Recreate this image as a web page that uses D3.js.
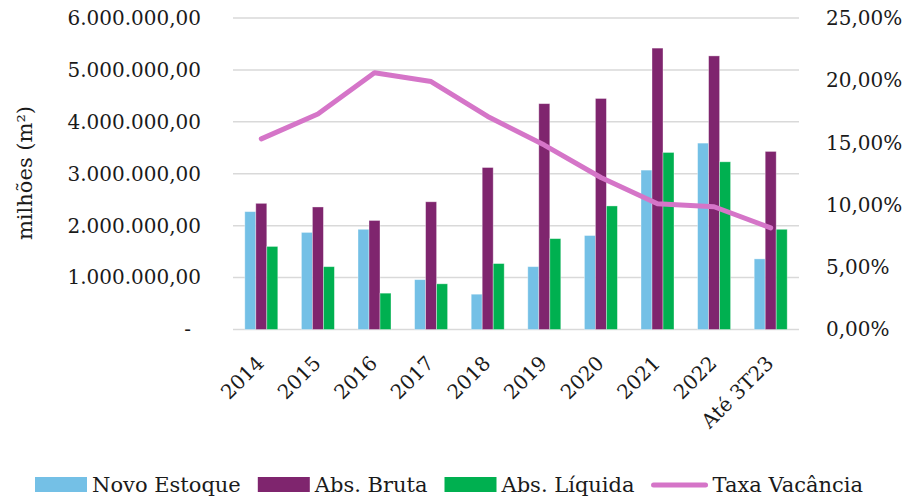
<!DOCTYPE html>
<html>
<head>
<meta charset="utf-8">
<script src="https://cdn.jsdelivr.net/npm/d3@7"></script>
<style>
  body { margin: 0; background: #fff; }
  text { font-family: "DejaVu Serif", serif; fill: #1a1a1a; }
</style>
</head>
<body>
<script>
// periods on the x axis
const categories = ['2014', '2015', '2016', '2017', '2018', '2019', '2020', '2021', '2022', 'Até 3T23'];

// m²
const novoEstoque = [2270000, 1870000, 1930000, 960000, 680000, 1210000, 1810000, 3070000, 3590000, 1360000];
const absBruta = [2430000, 2360000, 2100000, 2460000, 3120000, 4350000, 4450000, 5420000, 5270000, 3430000];
const absLiquida = [1600000, 1210000, 700000, 880000, 1270000, 1750000, 2380000, 3410000, 3230000, 1930000];

// vacancy rate in %
const taxaVacancia = [15.3, 17.3, 20.6, 19.9, 17.1, 14.8, 12.2, 10.1, 9.85, 8.15];

const leftTicks = [0, 1000000, 2000000, 3000000, 4000000, 5000000, 6000000];
const rightTicks = [0, 5, 10, 15, 20, 25];

const series = [
    {name: 'Novo Estoque', values: novoEstoque, color: '#74C0E6'},
    {name: 'Abs. Bruta', values: absBruta, color: '#7F256E'},
    {name: 'Abs. Líquida', values: absLiquida, color: '#00B050'}
];
const lineColor = '#D575C8';

const width = 914, height = 496;
const margin = {top: 18, right: 115, bottom: 167, left: 233};

const svg = d3.select('body').append('svg')
    .attr('width', width)
    .attr('height', height);

const x = d3.scaleBand()
    .domain(categories)
    .range([margin.left, width - margin.right]);

const xInner = d3.scaleBand()
    .domain(series.map(s => s.name))
    .range([0, 33]);

const y = d3.scaleLinear()
    .domain([0, 6000000])
    .range([height - margin.bottom + 0.5, margin.top]);

const yRight = d3.scaleLinear()
    .domain([0, 25])
    .range([height - margin.bottom + 0.5, margin.top]);

const fmt = d3.formatLocale({decimal: ',', thousands: '.', grouping: [3], currency: ['R$', '']});
const leftFmt = v => v === 0 ? '-' : fmt.format(',.2f')(v);
const rightFmt = v => fmt.format('.2f')(v) + '%';

// gridlines
svg.append('g')
    .selectAll('line')
    .data(leftTicks)
    .join('line')
    .attr('x1', margin.left)
    .attr('x2', width - margin.right)
    .attr('y1', d => y(d))
    .attr('y2', d => y(d))
    .attr('stroke', '#d9d9d9')
    .attr('stroke-width', 1.5);

// left axis
const leftAxis = svg.append('g')
    .attr('transform', `translate(${margin.left - 32},0)`)
    .call(d3.axisLeft(y).tickValues(leftTicks).tickFormat(leftFmt).tickSize(0).tickPadding(0));
leftAxis.select('.domain').remove();
leftAxis.selectAll('text')
    .style('font-family', '"DejaVu Serif", serif')
    .style('font-size', '20px')
    .attr('fill', '#1a1a1a');
leftAxis.selectAll('.tick')
    .filter(d => d === 0)
    .select('text')
    .attr('dx', -10);

// right axis
const rightAxis = svg.append('g')
    .attr('transform', `translate(${width - margin.right + 27},0)`)
    .call(d3.axisRight(yRight).tickValues(rightTicks).tickFormat(rightFmt).tickSize(0).tickPadding(0));
rightAxis.select('.domain').remove();
rightAxis.selectAll('text')
    .style('font-family', '"DejaVu Serif", serif')
    .style('font-size', '20px')
    .attr('fill', '#1a1a1a');

// y axis title
svg.append('text')
    .attr('transform', 'translate(32,173) rotate(-90)')
    .attr('text-anchor', 'middle')
    .style('font-size', '21px')
    .text('milhões (m²)');

// bars
const groups = svg.append('g')
    .selectAll('g')
    .data(categories)
    .join('g')
    .attr('transform', d => `translate(${x(d) + (x.bandwidth() - 33) / 2},0)`);

groups.selectAll('rect')
    .data((d, i) => series.map(s => ({name: s.name, value: s.values[i], color: s.color})))
    .join('rect')
    .attr('x', d => xInner(d.name))
    .attr('width', xInner.bandwidth())
    .attr('y', d => y(d.value))
    .attr('height', d => y(0) - y(d.value))
    .attr('fill', d => d.color)
    .attr('stroke', '#ffffff')
    .attr('stroke-opacity', 0.45)
    .attr('stroke-width', 0.8);

// vacancy line
const line = d3.line()
    .x((d, i) => x(categories[i]) + x.bandwidth() / 2)
    .y(d => yRight(d));

svg.append('path')
    .datum(taxaVacancia)
    .attr('fill', 'none')
    .attr('stroke', lineColor)
    .attr('stroke-width', 5)
    .attr('stroke-linecap', 'round')
    .attr('stroke-linejoin', 'round')
    .attr('d', line);

// x labels
const xAxis = svg.append('g')
    .attr('transform', `translate(0,${y(0) + 8})`)
    .call(d3.axisBottom(x).tickSize(0).tickPadding(0));
xAxis.select('.domain').remove();
xAxis.selectAll('text')
    .style('font-family', '"DejaVu Serif", serif')
    .style('font-size', '20px')
    .attr('fill', '#1a1a1a')
    .attr('text-anchor', 'end')
    .attr('dy', 0)
    .attr('transform', 'translate(4,27) rotate(-45)');

// legend
const legendItems = [
    ...series.map(s => ({name: s.name, color: s.color, type: 'rect'})),
    {name: 'Taxa Vacância', color: lineColor, type: 'line'}
];
const legend = svg.append('g').attr('transform', 'translate(35,477)');
let lx = 0;
legendItems.forEach(item => {
    const g = legend.append('g').attr('transform', `translate(${lx},0)`);
    let sw;
    if (item.type === 'rect') {
        sw = 52;
        g.append('rect').attr('width', sw).attr('height', 15).attr('fill', item.color);
    } else {
        sw = 56;
        g.append('line')
            .attr('x1', 2).attr('x2', sw - 2)
            .attr('y1', 8).attr('y2', 8)
            .attr('stroke', item.color)
            .attr('stroke-width', 5)
            .attr('stroke-linecap', 'round');
    }
    const t = g.append('text')
        .attr('x', sw + 5)
        .attr('y', 15)
        .style('font-size', '21px')
        .text(item.name);
    lx += sw + 5 + t.node().getComputedTextLength() + 17;
});
</script>
</body>
</html>
